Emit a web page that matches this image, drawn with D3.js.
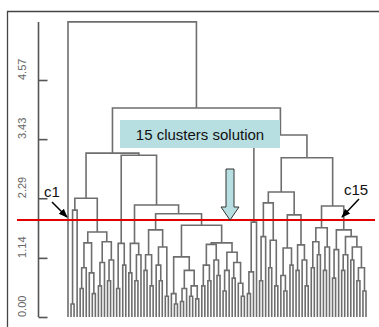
<!DOCTYPE html>
<html><head><meta charset="utf-8">
<script src="https://cdn.jsdelivr.net/npm/d3@7"></script>
<style>html,body{margin:0;padding:0;background:#fff;}svg{display:block;}</style>
</head><body>
<svg id="chart" width="379" height="327"></svg>
<script>
// ---------- data ----------
const tickValues = [0.00, 1.14, 2.29, 3.43, 4.57];
const tickLabels = ["0.00", "1.14", "2.29", "3.43", "4.57"];
const cutHeight = 1.87;
const annotation = "15 clusters solution";
const clusterLabels = ["c1", "c15"];
// cluster subtrees: [mergeHeight, left, right]; 0 is a single object (leaf)
const c1 = 0;
const c2 = [0.25, 0, 0];
const c3 = 0;
const c4 = [1.64, [1.43, [0.95, [0.55, 0, 0], 0], [0.85, 0, [0.45, 0, 0]]],
                  [1.45, [1.05, [0.6, 0, 0], 0], [1.1, [0.7, 0, 0], 0]]];
const c5 = [1.42, [0.55, 0, 0], [1.0, 0, 0]];
const c6 = [1.42, [0.85, 0, 0], [1.2, [0.7, 0, 0], 0]];
const c7 = [1.68, [1.2, [0.9, 0, 0], [0.6, 0, 0]], [1.35, [1.0, 0, [0.7, 0, 0]], [0.4, 0, 0]]];
const c8 = [1.77,
  [1.16, [0.45, 0, [0.25, 0, 0]], [0.9, [0.55, [0.3, 0, 0], 0], [0.6, [0.4, 0, 0], [0.35, 0, 0]]]],
  [1.43, [1.40, [1.0, [0.6, 0, 0], [0.7, 0, 0]], [1.1, 0, [0.8, 0, 0]]],
         [1.25, [0.9, [0.5, 0, 0], 0], [1.05, [0.75, 0, 0], [0.65, 0, [0.4, 0, 0]]]]]];
const c9 = [1.83, [0.87, [0.45, 0, 0], 0], 0];
const c10 = [1.55, [0.7, 0, 0], 0];
const c11 = [1.48, [0.95, 0, 0], [0.6, 0, 0]];
const c12 = [1.33, [0.8, 0, [0.5, 0, 0]], [1.0, 0, 0]];
const c13 = [1.39, [0.9, 0, 0], [1.1, 0, [0.6, 0, 0]]];
const c14 = [1.72, [1.45, [0.95, 0, 0], [1.2, 0, 0]], [1.35, [0.9, 0, 0], 0]];
const c15 = [1.68, [1.3, [0.75, 0, 0], 0],
                   [1.55, [1.2, [0.9, 0, 0], 0], [1.35, [1.1, 0, 0], [0.95, [0.7, 0, 0], [0.5, 0, 0]]]]];
// merges above the cut, referring to the clusters by name
const upperTree = [5.69, "c1",
  [4.03,
    [3.16, [2.29, [2.06, "c2", "c3"], "c4"], [3.12, "c5", [2.16, "c6", [1.99, "c7", "c8"]]]],
    [3.51, "c9", [3.07, [2.41, [2.20, "c10", "c11"], [1.97, "c12", "c13"]], [2.14, "c14", "c15"]]]]];
const clusters = {c1, c2, c3, c4, c5, c6, c7, c8, c9, c10, c11, c12, c13, c14, c15};

// ---------- build ----------
function resolve(d) {
  if (typeof d === "string") return resolve(clusters[d]);
  if (Array.isArray(d)) return {h: d[0], children: [resolve(d[1]), resolve(d[2])]};
  return {h: 0};
}
const root = d3.hierarchy(resolve(upperTree));
const leaves = root.leaves();
const x = d3.scalePoint().domain(d3.range(leaves.length)).range([68, 366]);
leaves.forEach((l, i) => { l.x = x(i); });
root.eachAfter(n => { if (n.children) n.x = (n.children[0].x + n.children[1].x) / 2; });

const y = d3.scaleLinear().domain([0, 4.57]).range([317, 80]);

const svg = d3.select("#chart");

// frame
svg.append("path").attr("d", "M7.5,327 V11.5 H379")
  .attr("fill", "none").attr("stroke", "#444").attr("stroke-width", 1.3);

// dendrogram
const g = svg.append("g");
root.descendants().filter(n => n.children).forEach(n => {
  const [a, b] = n.children;
  g.append("path")
    .attr("d", `M${a.x},${y(a.data.h)}V${y(n.data.h)}H${b.x}V${y(b.data.h)}`)
    .attr("fill", "none").attr("stroke", "#6e6e6e").attr("stroke-width", 1.6);
});

// axis
const axisG = svg.append("g").attr("transform", "translate(38.5,0)");
const axis = d3.axisRight(y).tickValues(tickValues).tickSize(9).tickFormat((d, i) => "");
axisG.call(axis);
axisG.select(".domain").attr("d", `M0,${y(root.data.h)}V${y(0)}`).attr("stroke", "#555").attr("stroke-width", 1.6);
axisG.selectAll(".tick line").attr("stroke", "#555").attr("stroke-width", 1.6);
svg.append("g").selectAll("text").data(tickValues).join("text")
  .attr("transform", d => `translate(26,${y(d)}) rotate(-90)`)
  .attr("text-anchor", "start")
  .attr("font-family", "Liberation Sans, Arial, sans-serif").attr("font-size", 11)
  .attr("fill", "#666")
  .text((d, i) => tickLabels[i]);

// cut line
svg.append("line").attr("x1", 17).attr("x2", 375)
  .attr("y1", y(cutHeight)).attr("y2", y(cutHeight))
  .attr("stroke", "#e00000").attr("stroke-width", 2);

// annotation box
svg.append("rect").attr("x", 120).attr("y", 120).attr("width", 160).attr("height", 28)
  .attr("fill", "#b7dfe1");
svg.append("text").attr("x", 200).attr("y", 140).attr("text-anchor", "middle")
  .attr("font-family", "Liberation Sans, Arial, sans-serif").attr("font-size", 15)
  .attr("fill", "#111").text(annotation);

// big arrow
const tipY = y(cutHeight);
svg.append("path")
  .attr("d", `M226,169 H234 V207 H239 L230,${tipY} L221,207 H226 Z`)
  .attr("fill", "#b7dfe1").attr("stroke", "#333").attr("stroke-width", 1);

// cluster labels with arrows
svg.append("defs").append("marker").attr("id", "ah").attr("viewBox", "0 0 10 10")
  .attr("refX", 9).attr("refY", 5).attr("markerWidth", 6).attr("markerHeight", 6)
  .attr("orient", "auto").append("path").attr("d", "M0,1 L10,5 L0,9 Z").attr("fill", "#000");
const c1x = leaves[0].x;
svg.append("text").attr("x", 44).attr("y", 197)
  .attr("font-family", "Liberation Sans, Arial, sans-serif").attr("font-size", 15)
  .attr("fill", "#111").text(clusterLabels[0]);
svg.append("line").attr("x1", 52).attr("y1", 202).attr("x2", c1x - 1).attr("y2", 217)
  .attr("stroke", "#000").attr("stroke-width", 1.5).attr("marker-end", "url(#ah)");
svg.append("text").attr("x", 344).attr("y", 195)
  .attr("font-family", "Liberation Sans, Arial, sans-serif").attr("font-size", 15)
  .attr("fill", "#111").text(clusterLabels[1]);
svg.append("line").attr("x1", 359).attr("y1", 199).attr("x2", 342).attr("y2", 217)
  .attr("stroke", "#000").attr("stroke-width", 1.5).attr("marker-end", "url(#ah)");
</script>
</body></html>
